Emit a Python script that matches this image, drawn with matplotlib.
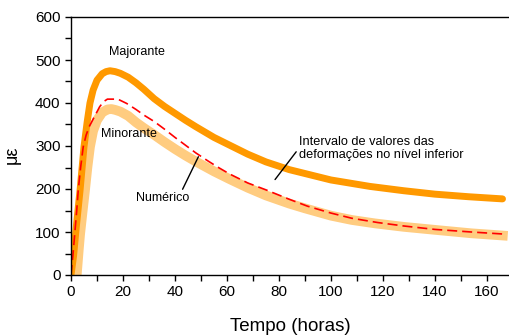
import numpy as np
import matplotlib
matplotlib.use("Agg")
import matplotlib.pyplot as plt
from matplotlib.ticker import MultipleLocator

plt.rcParams['font.family'] = ['Liberation Sans', 'DejaVu Sans']

# curvas (tempo em horas, deformacao em microstrain)
t_maj = [0, 1, 2, 3.5, 5, 6.2, 7.3, 8.5, 10, 12, 13.5, 15, 17, 19, 22, 25, 28, 32, 36, 40, 44, 48,
         55, 61, 68, 75, 84, 94, 100, 108, 115, 128, 140, 153, 166]
v_maj = [0, 45, 110, 198, 298, 355, 400, 430, 453, 468, 473, 475, 473, 469, 460, 447, 432, 410, 392, 376, 360, 345,
         320, 302, 281, 263, 245, 230, 221, 213, 206, 196, 188, 182, 177]

t_min = [2.2, 3, 3.5, 4.5, 5.4, 6.3, 7.3, 8.5, 10, 12, 14, 15.5, 17, 19, 22, 25, 28, 32, 36, 40, 44, 48,
         55, 61, 68, 75, 84, 90, 100, 108, 117, 128, 140, 154, 168]
v_min = [0, 60, 95, 150, 198, 250, 298, 335, 360, 378, 385, 386, 384, 380, 370, 355, 342, 326, 309, 293, 278, 264,
         241, 223, 203, 185, 166, 155, 138, 128, 120, 112, 105, 97, 91]

t_num = [0, 0.8, 1.5, 2.2, 2.8, 3.7, 4.7, 5.8, 7, 9, 11, 12.5, 14, 18, 21.4, 25, 28, 32, 36, 40, 44, 48,
         53, 57, 61, 68, 75, 84, 91, 100, 108, 118, 128, 140, 154, 167]
v_num = [0, 50, 100, 150, 198, 250, 298, 325, 345, 368, 391, 403, 409, 409, 399, 385, 372, 357, 339, 320, 302, 284,
         264, 249, 235, 214, 198, 176, 160, 144, 132, 122, 114, 106, 100, 95]

fig = plt.figure(figsize=(5.09, 3.36), dpi=100)
ax = fig.add_axes([71/509, 61/336, 438/509, 258/336])

ax.plot(t_min, v_min, color='#FFCC80', lw=7, solid_capstyle='butt', solid_joinstyle='round')
ax.plot(t_maj, v_maj, color='#FF9900', lw=5, solid_capstyle='round', solid_joinstyle='round')
ax.plot(t_num, v_num, color='#FF0000', lw=1.2, dashes=(6, 3))

ax.set_xlim(0, 168.5)
ax.set_ylim(0, 600)
ax.xaxis.set_major_locator(MultipleLocator(20))
ax.xaxis.set_minor_locator(MultipleLocator(10))
ax.yaxis.set_major_locator(MultipleLocator(100))
ax.yaxis.set_minor_locator(MultipleLocator(50))
ax.tick_params(which='both', direction='out', length=4, width=1, labelsize=11)
ax.spines['right'].set_visible(False)
for s in ['left', 'bottom', 'top']:
    ax.spines[s].set_linewidth(1)

ax.set_xlabel('Tempo (horas)', fontsize=13.5)
ax.set_ylabel('με', fontsize=13)
ax.xaxis.set_label_coords(0.5, -0.165)
ax.yaxis.set_label_coords(-0.115, 0.465)

ax.text(14.6, 518, 'Majorante', fontsize=9, va='center')
ax.text(11.5, 328, 'Minorante', fontsize=9, va='center')
ax.annotate('Numérico', xy=(49, 275), xytext=(25, 179), fontsize=9, va='center',
            arrowprops=dict(arrowstyle='-', color='black', lw=1, shrinkA=0, shrinkB=0,
                            relpos=(0.85, 1.0)))
ax.annotate('Intervalo de valores das\ndeformações no nível inferior', xy=(78.5, 222),
            xytext=(87.7, 295), fontsize=9.2, va='center', linespacing=1.1,
            arrowprops=dict(arrowstyle='-', color='black', lw=1, shrinkA=0, shrinkB=0,
                            relpos=(0.0, 0.5)))

plt.savefig('out.png', dpi=100)
